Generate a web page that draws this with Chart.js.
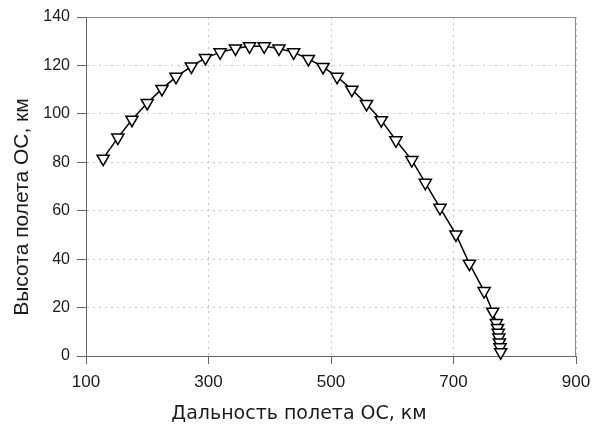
<!DOCTYPE html>
<html>
<head>
<meta charset="utf-8">
<script src="https://cdn.jsdelivr.net/npm/chart.js@4/dist/chart.umd.min.js"></script>
<style>
  html, body { margin: 0; background: #fff; }
  #wrap { width: 592px; height: 432px; }
</style>
</head>
<body>
<div id="wrap"><canvas id="chart"></canvas></div>
<script>
// flight range (km) and altitude (km)
const rangeKm = [128, 152, 175, 200, 224, 247, 272, 295, 319, 344, 367, 391, 415, 439,
                 463, 487, 510, 534, 558, 582, 606, 632, 654, 678, 704, 726, 750, 764,
                 770, 772, 773, 774, 775, 776, 777];
const heightKm = [81.5, 90.2, 97.6, 104.5, 110.3, 115.3, 119.6, 123.1, 125.4, 127.0, 127.9,
                  127.9, 127.0, 125.4, 122.7, 119.4, 115.3, 110.0, 104.1, 97.4, 89.1, 80.9,
                  71.5, 61.2, 50.2, 38.1, 26.8, 18.3, 13.6, 11.6, 9.6, 7.6, 5.6, 3.6, 1.6];

const xTicks = [100, 300, 500, 700, 900];
const yTicks = [0, 20, 40, 60, 80, 100, 120, 140];
const xTitle = 'Дальность полета ОС, км';
const yTitle = 'Высота полета ОС, км';

const points = rangeKm.map((x, i) => ({ x: x, y: heightKm[i] }));

// frame around the plot + axis titles
const framePlugin = {
    id: 'frame',
    afterDraw(chart) {
        const { ctx, chartArea: a } = chart;
        ctx.save();
        ctx.strokeStyle = '#8a8a8a';
        ctx.lineWidth = 1;
        ctx.beginPath();
        ctx.moveTo(a.left, a.top + 0.5);
        ctx.lineTo(a.right - 0.5, a.top + 0.5);
        ctx.lineTo(a.right - 0.5, a.bottom);
        ctx.stroke();

        ctx.fillStyle = '#1a1a1a';
        ctx.textAlign = 'center';
        ctx.textBaseline = 'middle';
        ctx.font = '19px "DejaVu Sans"';
        ctx.fillText(xTitle, 299, 414);

        ctx.translate(22, 207);
        ctx.rotate(-Math.PI / 2);
        ctx.font = '21px "Liberation Sans"';
        ctx.fillText(yTitle, 0, 0);
        ctx.restore();
    }
};

const ctx = document.getElementById('chart').getContext('2d');
new Chart(ctx, {
    type: 'scatter',
    data: {
        datasets: [{
            data: points,
            showLine: true,
            borderColor: '#000',
            borderWidth: 1.5,
            pointStyle: 'triangle',
            pointRotation: 180,
            pointRadius: 7,
            pointBackgroundColor: '#fff',
            pointBorderColor: '#000',
            pointBorderWidth: 1.5,
            clip: false
        }]
    },
    options: {
        responsive: true,
        maintainAspectRatio: false,
        animation: false,
        layout: { padding: { top: 17, right: 16, left: 0, bottom: 0 } },
        plugins: { legend: { display: false }, tooltip: { enabled: false } },
        scales: {
            x: {
                type: 'linear',
                min: 100,
                max: 900,
                afterBuildTicks: s => { s.ticks = xTicks.map(v => ({ value: v })); },
                afterFit: s => { s.height = 76; s.paddingLeft = 0; s.paddingRight = 0; },
                ticks: {
                    color: '#1a1a1a',
                    font: { family: 'Liberation Sans', size: 17 },
                    padding: 8,
                    maxRotation: 0
                },
                grid: {
                    color: '#c4c4c4',
                    tickColor: '#666',
                    tickLength: 8,
                    tickBorderDash: [],
                    lineWidth: 1
                },
                border: { color: '#666', width: 1, dash: [2, 4] }
            },
            y: {
                type: 'linear',
                min: 0,
                max: 140,
                afterBuildTicks: s => { s.ticks = yTicks.map(v => ({ value: v })); },
                afterFit: s => { s.width = 86; s.paddingTop = 0; s.paddingBottom = 0; },
                ticks: {
                    color: '#1a1a1a',
                    font: { family: 'Liberation Sans', size: 16 },
                    padding: 7
                },
                grid: {
                    color: '#c4c4c4',
                    tickColor: '#666',
                    tickLength: 9,
                    tickBorderDash: [],
                    lineWidth: 1
                },
                border: { color: '#666', width: 1, dash: [2, 4] }
            }
        }
    },
    plugins: [framePlugin]
});
</script>
</body>
</html>
